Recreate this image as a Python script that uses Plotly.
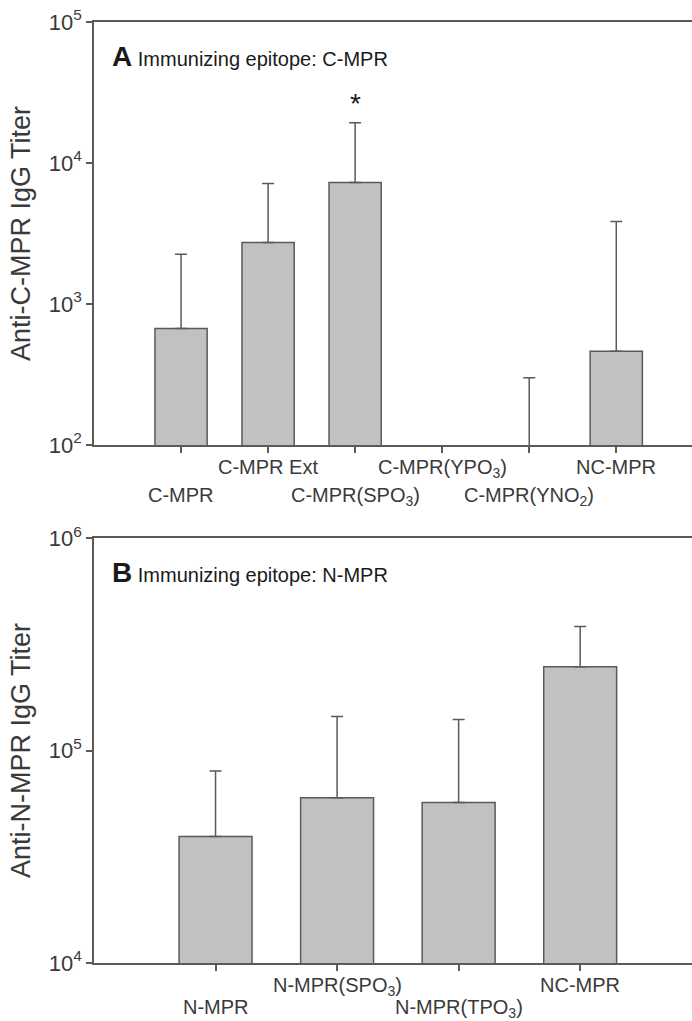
import math
import plotly.graph_objects as go
from plotly.subplots import make_subplots

# Panel A data
cats_a = ["C-MPR", "C-MPR Ext", "C-MPR(SPO<sub>3</sub>)", "C-MPR(YPO<sub>3</sub>)",
          "C-MPR(YNO<sub>2</sub>)", "NC-MPR"]
vals_a = [670, 2730, 7270, 50, 50, 462]
err_a = [1580, 4420, 12030, 0, 250, 3390]
stagger_a = [1, 0, 1, 0, 1, 0]  # 1 = lower row

# Panel B data
cats_b = ["N-MPR", "N-MPR(SPO<sub>3</sub>)", "N-MPR(TPO<sub>3</sub>)", "NC-MPR"]
vals_b = [39400, 60000, 57000, 248000]
err_b = [40600, 84500, 83000, 135000]
stagger_b = [1, 0, 1, 0]

FONT = "Liberation Sans, Arial, sans-serif"
LINE = "#5a5a5a"
TXT = "#3a3a3a"
FILL = "#c0c2c1"

fig = make_subplots(rows=2, cols=1, vertical_spacing=0.1)

xa = list(range(len(cats_a)))
xb = list(range(len(cats_b)))

fig.add_trace(go.Bar(x=xa, y=vals_a, width=0.6,
                     marker=dict(color=FILL, line=dict(color=LINE, width=1.5)),
                     error_y=dict(type="data", array=err_a, arrayminus=[0]*len(err_a),
                                  symmetric=False, color=LINE, thickness=1.5, width=6),
                     showlegend=False), row=1, col=1)
fig.add_trace(go.Bar(x=xb, y=vals_b, width=0.6,
                     marker=dict(color=FILL, line=dict(color=LINE, width=1.5)),
                     error_y=dict(type="data", array=err_b, arrayminus=[0]*len(err_b),
                                  symmetric=False, color=LINE, thickness=1.5, width=6),
                     showlegend=False), row=2, col=1)

axis_common = dict(showline=True, linecolor=LINE, linewidth=1.5, ticks="outside",
                   tickcolor=LINE, tickwidth=1.5, ticklen=6, showgrid=False, zeroline=False)

fig.update_xaxes(**axis_common, mirror=True, showticklabels=False)
fig.update_xaxes(range=[-1, 5.87], tickvals=xa, domain=[0, 1], row=1, col=1)
fig.update_xaxes(range=[-1, 3.92], tickvals=xb, domain=[0, 1], row=2, col=1)

tickfont = dict(family=FONT, size=22, color=TXT)
titlefont = dict(family=FONT, size=27, color=TXT)
fig.update_yaxes(**axis_common, type="log", tickfont=tickfont)
fig.update_yaxes(range=[2, 5], domain=[0.5505, 1.0],
                 tickvals=[100, 1000, 10000, 100000],
                 ticktext=["10<sup>2</sup>", "10<sup>3</sup>", "10<sup>4</sup>", "10<sup>5</sup>"],
                 title=dict(text="Anti-C-MPR IgG Titer", font=titlefont, standoff=10),
                 row=1, col=1)
fig.update_yaxes(range=[4, 6], domain=[0.0, 0.4516],
                 tickvals=[1e4, 1e5, 1e6],
                 ticktext=["10<sup>4</sup>", "10<sup>5</sup>", "10<sup>6</sup>"],
                 title=dict(text="Anti-N-MPR IgG Titer", font=titlefont, standoff=10),
                 row=2, col=1)

annots = []
for i, c in enumerate(cats_a):
    annots.append(dict(x=i, y=0, xref="x", yref="y domain", text=c, showarrow=False,
                       yanchor="top", yshift=-9 - 28 * stagger_a[i],
                       font=dict(family=FONT, size=20, color=TXT)))
for i, c in enumerate(cats_b):
    annots.append(dict(x=i, y=0, xref="x2", yref="y2 domain", text=c, showarrow=False,
                       yanchor="top", yshift=-9 - 22 * stagger_b[i],
                       font=dict(family=FONT, size=20, color=TXT)))

# panel titles
annots.append(dict(x=0, y=1, xref="x domain", yref="y domain", xanchor="left", yanchor="top",
                   xshift=16, yshift=-17, showarrow=False,
                   text="<b><span style='font-size:28px'>A</span></b> Immunizing epitope: C-MPR",
                   font=dict(family=FONT, size=20, color="#1a1a1a")))
annots.append(dict(x=0, y=1, xref="x2 domain", yref="y2 domain", xanchor="left", yanchor="top",
                   xshift=16, yshift=-17, showarrow=False,
                   text="<b><span style='font-size:28px'>B</span></b> Immunizing epitope: N-MPR",
                   font=dict(family=FONT, size=20, color="#1a1a1a")))
# significance star above C-MPR(SPO3)
annots.append(dict(x=2, y=math.log10(vals_a[2] + err_a[2]), xref="x", yref="y", yanchor="bottom",
                   yshift=2, showarrow=False, text="*",
                   font=dict(family=FONT, size=28, color="#1a1a1a")))

fig.update_layout(width=692, height=1021, margin=dict(l=94, r=0, t=22, b=58),
                  plot_bgcolor="white", paper_bgcolor="white", bargap=0.4,
                  annotations=annots)

fig.write_html("out.html")
